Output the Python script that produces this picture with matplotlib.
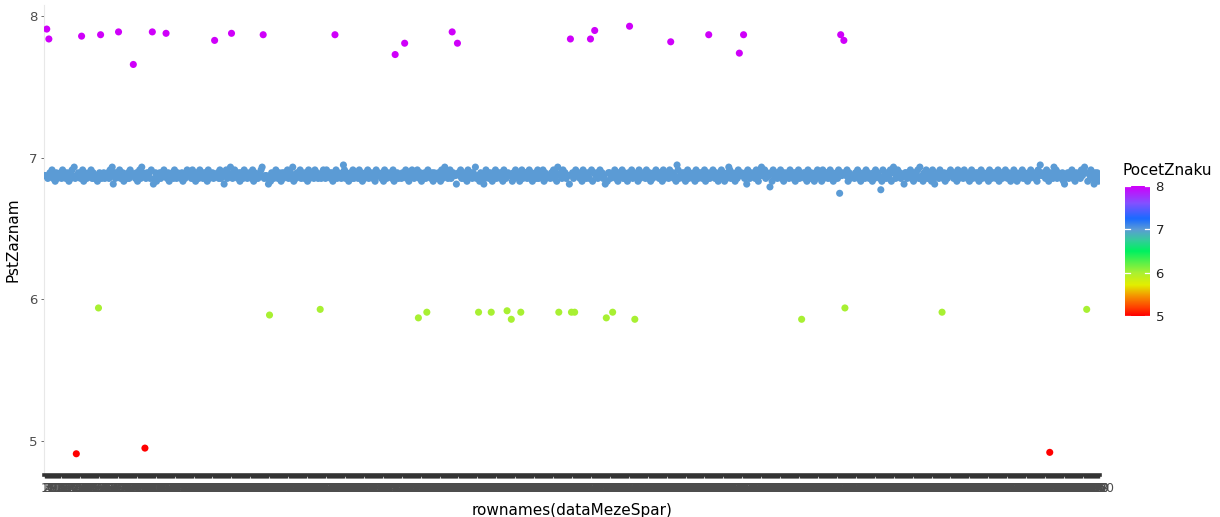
import matplotlib
matplotlib.use("Agg")
import matplotlib.pyplot as plt
from matplotlib.colors import LinearSegmentedColormap, Normalize
from matplotlib.cm import ScalarMappable
from matplotlib.transforms import blended_transform_factory

# ---------------- data ----------------
# PocetZnaku = 8 points (magenta): category index, PstZaznam
mag_idx = [2, 4, 35, 53, 70, 84, 102, 115, 161, 177, 207, 275, 332, 341, 386, 391,
           498, 517, 521, 554, 593, 629, 658, 662, 754, 757]
mag_val = [7.91, 7.84, 7.86, 7.87, 7.89, 7.66, 7.89, 7.88, 7.83, 7.88, 7.87, 7.87,
           7.73, 7.81, 7.89, 7.81, 7.84, 7.84, 7.90, 7.93, 7.82, 7.87, 7.74, 7.87,
           7.87, 7.83]
# PocetZnaku = 6 points (green)
grn_idx = [51, 213, 261, 354, 362, 411, 423, 438, 442, 451, 487, 499, 502, 532,
           538, 559, 717, 758, 850, 987]
grn_val = [5.94, 5.89, 5.93, 5.87, 5.91, 5.91, 5.91, 5.92, 5.86, 5.91, 5.91, 5.91,
           5.91, 5.87, 5.91, 5.86, 5.86, 5.94, 5.91, 5.93]
# PocetZnaku = 5 points (red)
red_idx = [30, 95, 952]
red_val = [4.91, 4.95, 4.92]

# PocetZnaku = 7 points (dense band): estimated value of each remaining category, coded
band_code = (
    "55465745364556475546536475845654736545657464553645"
    "64556475826465745635546476554635748654656472463556"
    "46575463556475465546354675564745365475546563745564"
    "55647456257465846755463654756456547365545678455423"
    "65457546536465574564835465574654653745564756454675"
    "4755646357465546x746535647455647563546574565463756"
    "55463754655647356455465746355764657463556475546365"
    "45653746856457465526574645637556465845365524756463"
    "65745564637546553647556374566457463556474565736455"
    "54657463856475645526475654637554654736564575645236"
    "64557463655746453657455637465564754635465756465374"
    "5564756453x745564635746554637546564573564657546535"
    "47563546874655364756546275465564753658567465516375"
    "56465745365564756463657455646375465536475563745664"
    "5746355647a56573645554657463556475645536475654b375"
    "54654736864575645526645574636557484536574556374255"
    "64754635465756465374556475645367455646357465546375"
    "4656457356465754653547563546574655364756546375x655"
    "64753654867465546325564657453655647568636574526463"
    "5"
)
band_lookup = {"1": 6.795, "2": 6.815, "3": 6.835, "4": 6.855, "5": 6.875,
               "6": 6.895, "7": 6.915, "8": 6.935,
               "a": 6.750, "b": 6.775, "x": 6.950}

color_ticks = [5, 6, 7, 8]

# ---------------- assemble ----------------
n_out = len(mag_idx) + len(grn_idx) + len(red_idx)
N = len(band_code) + n_out
special = set(mag_idx) | set(grn_idx) | set(red_idx)
band_idx = [i for i in range(N) if i not in special]
band_val = [band_lookup[c] for c in band_code]

xs = band_idx + mag_idx + grn_idx + red_idx
ys = band_val + mag_val + grn_val + red_val
cs = [7] * len(band_idx) + [8] * len(mag_idx) + [6] * len(grn_idx) + [5] * len(red_idx)

stops = [(0.00, "#FF0000"), (0.06, "#FF3C00"), (0.15, "#F59000"),
         (0.24, "#E2EE00"), (0.333, "#A8F032"), (0.50, "#00F060"),
         (0.59, "#38C8A0"), (0.667, "#5B9BD5"), (0.75, "#1A6BFF"),
         (0.87, "#8450FF"), (1.00, "#CF00FA")]
cmap = LinearSegmentedColormap.from_list("rb", stops)
norm = Normalize(5, 8)

fig = plt.figure(figsize=(12.2, 5.17), dpi=100)
ax = fig.add_axes([44 / 1220, 42 / 517, (1100 - 44) / 1220, 470 / 517])
ax.scatter(xs, ys, c=cs, cmap=cmap, norm=norm, s=26, linewidths=0, zorder=3)

ax.set_xlim(-0.6, N - 0.4)
ax.set_ylim(4.76, 8.08)
ax.set_xticks(range(N))
ax.set_xticklabels([str(i + 1) for i in range(N)], fontsize=8.8, color="#4D4D4D")
ax.tick_params(axis="x", length=2.5, width=1.0, color="#333333", pad=2.5)
ax.set_yticks([5, 6, 7, 8])
ax.set_yticklabels(["5", "6", "7", "8"], fontsize=9.5, color="#4D4D4D")
ax.tick_params(axis="y", length=2.5, width=0.6, color="#555555", pad=2)
for s in ["top", "right"]:
    ax.spines[s].set_visible(False)
# the merged tick marks of the many categories form a solid dark strip
ax.spines["bottom"].set_color("#333333")
ax.spines["bottom"].set_linewidth(2.6)
ax.spines["left"].set_color("#E8E8E8")
ax.spines["left"].set_linewidth(0.8)
ax.set_xlabel("rownames(dataMezeSpar)", fontsize=11, labelpad=6)
ax.set_ylabel("PstZaznam", fontsize=11, labelpad=6)

# colorbar
cax = fig.add_axes([1125 / 1220, (517 - 316) / 517, 25 / 1220, 130 / 517])
cb = fig.colorbar(ScalarMappable(norm=norm, cmap=cmap), cax=cax, ticks=color_ticks)
cb.outline.set_visible(False)
cax.tick_params(length=0, pad=4, labelsize=9.5, labelcolor="#222222")
tr = blended_transform_factory(cax.transAxes, cax.transData)
for t in color_ticks:
    cax.plot([0, 0.2], [t, t], color="white", lw=0.9, transform=tr)
    cax.plot([0.8, 1.0], [t, t], color="white", lw=0.9, transform=tr)
fig.text(1122 / 1220, 1 - 171 / 517, "PocetZnaku", fontsize=11, va="center", ha="left")

fig.savefig("out.png", dpi=100, facecolor="white")
